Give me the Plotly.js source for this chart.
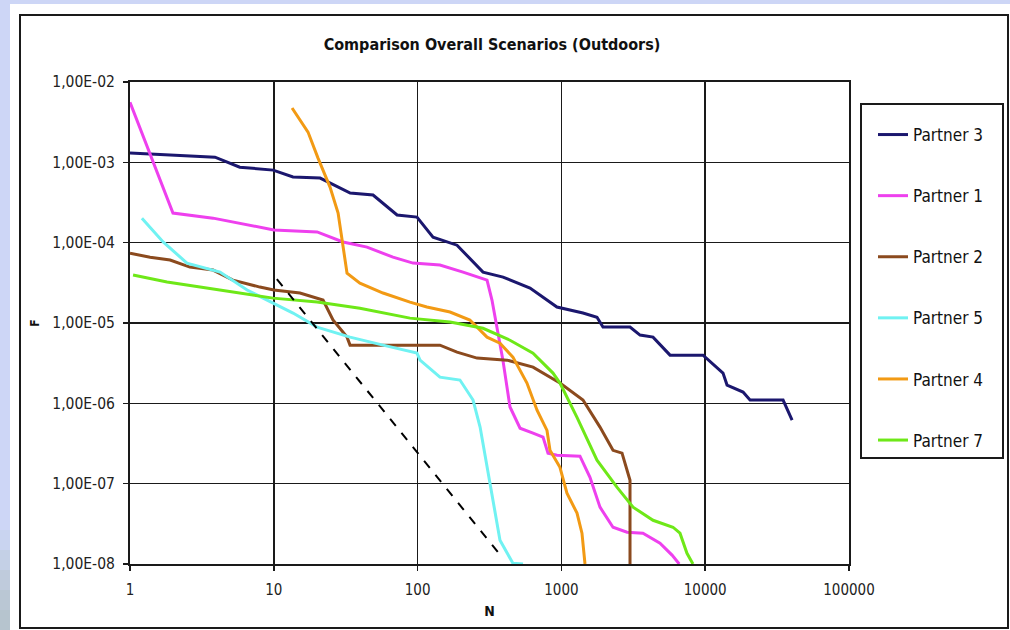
<!DOCTYPE html>
<html>
<head>
<meta charset="utf-8">
<script src="https://cdn.plot.ly/plotly-3.0.1.min.js"></script>
<style>
  html, body { margin: 0; padding: 0; background: #ffffff; }
  #chart { width: 1010px; height: 630px; }
</style>
</head>
<body>
<div id="chart"></div>
<script>
// ---- data ----
const seriesNames = ["Partner 3", "Partner 1", "Partner 2", "Partner 5", "Partner 4", "Partner 7"];
const seriesColors = ["#1b176e", "#ee40ee", "#8b4a1e", "#70f2f2", "#f29a14", "#6ee818"];

const p3_N = [1, 3.9, 5.8, 9.9, 13.6, 21, 34, 49, 72, 99, 128, 188, 285, 393, 605, 931, 1413, 1768, 1946, 3000, 3523, 4338, 5694, 9660, 13300, 14190, 18330, 20500, 34800, 40200];
const p3_F = [1.31e-3, 1.16e-3, 8.7e-4, 8.0e-4, 6.56e-4, 6.37e-4, 4.15e-4, 3.92e-4, 2.21e-4, 2.08e-4, 1.17e-4, 9.3e-5, 4.3e-5, 3.73e-5, 2.72e-5, 1.58e-5, 1.33e-5, 1.18e-5, 8.9e-6, 8.9e-6, 7.07e-6, 6.67e-6, 3.98e-6, 3.98e-6, 2.38e-6, 1.69e-6, 1.38e-6, 1.10e-6, 1.10e-6, 6.2e-7];

const p1_N = [1, 1.99, 3.78, 10, 20, 30.3, 44.5, 67.4, 92.9, 143, 207, 304, 329, 392, 439, 516, 635, 745, 807, 932, 1346, 1580, 1855, 2285, 2860, 3690, 4850, 5880, 6600];
const p1_F = [5.6e-3, 2.34e-4, 2.02e-4, 1.44e-4, 1.36e-4, 1.02e-4, 8.8e-5, 6.6e-5, 5.57e-5, 5.26e-5, 4.3e-5, 3.42e-5, 1.93e-5, 3.45e-6, 9.0e-7, 4.9e-7, 4.26e-7, 3.8e-7, 2.4e-7, 2.26e-7, 2.2e-7, 1.2e-7, 5.1e-8, 2.87e-8, 2.49e-8, 2.42e-8, 1.82e-8, 1.29e-8, 1.0e-8];

const p2_N = [1, 1.38, 1.9, 2.61, 3.78, 5.2, 8.0, 10, 15.2, 22, 25.8, 32.3, 33.9, 143, 188, 259, 419, 635, 977, 1413, 1855, 2285, 2640, 3000, 3000];
const p2_F = [7.4e-5, 6.6e-5, 6.07e-5, 4.97e-5, 4.56e-5, 3.42e-5, 2.8e-5, 2.57e-5, 2.36e-5, 1.93e-5, 1.09e-5, 6.67e-6, 5.3e-6, 5.3e-6, 4.34e-6, 3.66e-6, 3.45e-6, 2.82e-6, 1.79e-6, 1.10e-6, 5.06e-7, 2.6e-7, 2.4e-7, 1.1e-7, 1.0e-8];

const p5_N = [1.21, 1.7, 2.49, 4.23, 6.52, 9.87, 13.6, 20, 33.9, 57.5, 99, 104, 143, 197, 243, 272, 304, 334, 374, 460, 541];
const p5_F = [2.02e-4, 1.02e-4, 5.57e-5, 4.3e-5, 2.57e-5, 1.77e-5, 1.33e-5, 8.9e-6, 6.67e-6, 5.3e-6, 4.22e-6, 3.45e-6, 2.12e-6, 1.95e-6, 1.10e-6, 5.06e-7, 1.6e-7, 6.2e-8, 1.98e-8, 1.02e-8, 1.0e-8];

const p4_N = [13.4, 17.3, 20.3, 24.6, 28, 30.3, 32.3, 39.7, 57.5, 88.5, 116, 168, 231, 304, 374, 460, 576, 677, 745, 794, 833, 977, 1093, 1284, 1390, 1459];
const p4_F = [4.75e-3, 2.38e-3, 1.13e-3, 4.92e-4, 2.34e-4, 8.8e-5, 4.18e-5, 3.14e-5, 2.36e-5, 1.82e-5, 1.58e-5, 1.37e-5, 1.09e-5, 6.67e-6, 5.6e-6, 3.76e-6, 1.79e-6, 8.2e-7, 5.7e-7, 4.6e-7, 2.6e-7, 1.6e-7, 7.6e-8, 4.3e-8, 2.42e-8, 1.0e-8];

const p7_N = [1.05, 1.81, 3.07, 5.2, 9.87, 20, 39.7, 88.5, 168, 285, 439, 635, 874, 977, 1284, 1768, 2440, 3150, 4338, 5970, 6680, 7470, 8220];
const p7_F = [3.95e-5, 3.23e-5, 2.8e-5, 2.43e-5, 2.04e-5, 1.82e-5, 1.53e-5, 1.15e-5, 1.03e-5, 8.6e-6, 6.1e-6, 4.22e-6, 2.38e-6, 1.79e-6, 6.7e-7, 1.96e-7, 9.0e-8, 5.1e-8, 3.5e-8, 2.87e-8, 2.42e-8, 1.36e-8, 1.0e-8];

const crit_N = [10.5, 386];
const crit_F = [3.52e-5, 1.22e-8];

const xTickVals = [1, 10, 100, 1000, 10000, 100000];
const xTickText = ["1", "10", "100", "1000", "10000", "100000"];
const yTickVals = [1e-8, 1e-7, 1e-6, 1e-5, 1e-4, 1e-3, 1e-2];
const yTickText = ["1,00E-08", "1,00E-07", "1,00E-06", "1,00E-05", "1,00E-04", "1,00E-03", "1,00E-02"];

// ---- build ----
const xs = [p3_N, p1_N, p2_N, p5_N, p4_N, p7_N];
const ys = [p3_F, p1_F, p2_F, p5_F, p4_F, p7_F];

const FONT = "'Liberation Sans Narrow', 'Arial Narrow', 'DejaVu Sans Condensed', sans-serif";

const traces = seriesNames.map((name, i) => ({
  type: "scatter", mode: "lines", name: name,
  x: xs[i], y: ys[i],
  line: { color: seriesColors[i], width: 3 },
  legendgroup: "g" + i
}));
traces.push({
  type: "scatter", mode: "lines", name: "criterion", showlegend: false,
  x: crit_N, y: crit_F,
  line: { color: "#000000", width: 2, dash: "dash" }
});

// plot area in pixels: x 130..849, y 82..564
const L = 130, R = 849, T = 82, B = 564, W = 1010, H = 630;
const pw = R - L, ph = B - T;
const px = v => (v - L) / pw;
const py = v => (B - v) / ph;

// slide background strips (left strip fades from light blue to grey-blue at the bottom)
const bgShapes = [
  { type: "rect", xref: "paper", yref: "paper", layer: "below",
    x0: px(0), x1: px(1010), y0: py(4), y1: py(0), fillcolor: "#cdd6f6", line: { width: 0 } },
  { type: "rect", xref: "paper", yref: "paper", layer: "below",
    x0: px(0), x1: px(10), y0: py(630), y1: py(0), fillcolor: "#cdd6f6", line: { width: 0 } }
];
const fadeCols = ["#c9d4f0", "#c4d0e6", "#bfcbdc", "#bac7d4", "#b6c4ce"];
fadeCols.forEach((c, k) => {
  bgShapes.push({ type: "rect", xref: "paper", yref: "paper", layer: "below",
    x0: px(0), x1: px(10), y0: py(530 + 20 * (k + 1)), y1: py(530 + 20 * k),
    fillcolor: c, line: { width: 0 } });
});
bgShapes.push({ type: "rect", xref: "paper", yref: "paper", layer: "below",
  x0: px(0), x1: px(10), y0: py(630), y1: py(629), fillcolor: "#b6c4ce", line: { width: 0 } });

const layout = {
  width: W, height: H,
  margin: { l: L, r: W - R, t: T, b: H - B, pad: 0 },
  paper_bgcolor: "#ffffff",
  plot_bgcolor: "rgba(0,0,0,0)",
  font: { family: FONT, color: "#111111", size: 12 },
  title: {
    text: "Comparison Overall Scenarios (Outdoors)",
    font: { family: FONT, size: 16, color: "#111111", weight: "bold" },
    x: 492 / W, xref: "container", xanchor: "center",
    y: 1 - 44 / H, yref: "container", yanchor: "middle"
  },
  xaxis: {
    type: "log", range: [0, 5],
    tickvals: xTickVals, ticktext: xTickText,
    showgrid: true, gridcolor: "#1a1a1a", gridwidth: 1.5,
    showline: true, linecolor: "#1a1a1a", linewidth: 2, mirror: true,
    ticks: "outside", ticklen: 5, tickcolor: "#1a1a1a", tickwidth: 1.5,
    ticklabelstandoff: 6,
    tickfont: { family: FONT, size: 15, color: "#222222" },
    title: { text: "N", font: { family: FONT, size: 14, color: "#111111", weight: "bold" }, standoff: 8 },
    zeroline: false, fixedrange: true
  },
  yaxis: {
    type: "log", range: [-8, -2],
    tickvals: yTickVals, ticktext: yTickText,
    showgrid: true, gridcolor: "#1a1a1a", gridwidth: 1.5,
    showline: true, linecolor: "#1a1a1a", linewidth: 2, mirror: true,
    ticks: "outside", ticklen: 5, tickcolor: "#1a1a1a", tickwidth: 1.5,
    ticklabelstandoff: 5,
    tickfont: { family: FONT, size: 15.5, color: "#222222" },
    title: { text: "F", font: { family: FONT, size: 12, color: "#111111", weight: "bold" }, standoff: 10 },
    zeroline: false, fixedrange: true
  },
  legend: {
    x: px(873), y: py(117), xanchor: "left", yanchor: "top",
    bgcolor: "rgba(0,0,0,0)", borderwidth: 0,
    font: { family: FONT, size: 17, color: "#111111" },
    traceorder: "grouped", tracegroupgap: 36
  },
  shapes: bgShapes.concat([
    { type: "rect", xref: "paper", yref: "paper", layer: "below",
      x0: px(20), x1: px(1008), y0: py(628), y1: py(15),
      fillcolor: "#ffffff", line: { color: "#1a1a1a", width: 2 } },
    { type: "rect", xref: "paper", yref: "paper", layer: "below",
      x0: px(861), x1: px(1003), y0: py(458), y1: py(104),
      fillcolor: "#ffffff", line: { color: "#1a1a1a", width: 2 } }
  ]),
  showlegend: true
};

Plotly.newPlot("chart", traces, layout, { displayModeBar: false, staticPlot: true });
</script>
</body>
</html>
